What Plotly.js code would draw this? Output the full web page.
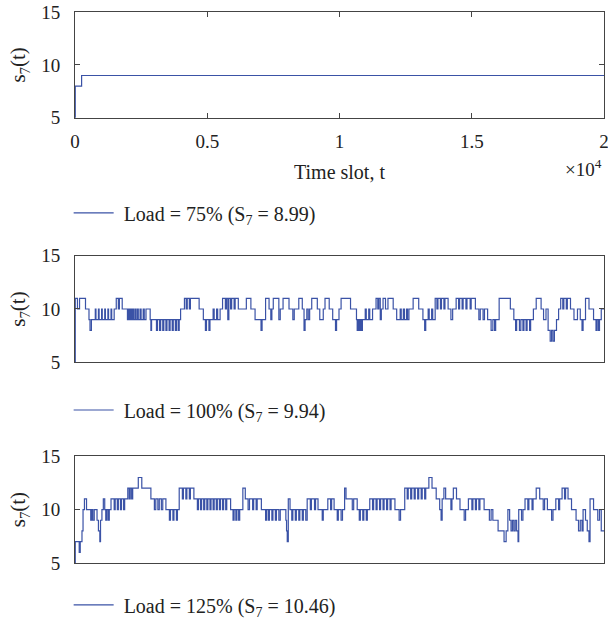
<!DOCTYPE html>
<html>
<head>
<meta charset="utf-8">
<script src="https://cdn.plot.ly/plotly-3.0.1.min.js"></script>
<style>html,body{margin:0;padding:0;background:#fff;}#chart{width:608px;height:627px;}</style>
</head>
<body>
<div id="chart"></div>
<script>
// Time slots at which s_7(t) changes, and the value held from that slot on
const t75 = [0, 10, 250, 20000];
const s75 = [5, 8, 9, 9];

const t100 = [0, 10, 93, 172, 397, 529, 568, 621, 767, 793, 886, 912, 1005, 1031, 1124, 1150, 1243, 1269, 1362, 1388, 1481,
  1560, 1639, 1679, 1785, 1983, 2023, 2049, 2089, 2128, 2168, 2208, 2261, 2300, 2353, 2393, 2459, 2499, 2578, 2618, 2684,
  2842, 2869, 2895, 3080, 3120, 3199, 3239, 3318, 3358, 3437, 3477, 3556, 3596, 3675, 3715, 3794, 3834, 3900, 3940, 3992,
  4138, 4204, 4244, 4323, 4363, 4693, 4852, 4931, 4971, 5063, 5103, 5222, 5262, 5354, 5394, 5486, 5579, 5685, 5724, 5777,
  5817, 5883, 5923, 6015, 6055, 6174, 6478, 6650, 6808, 7033, 7073, 7205, 7337, 7403, 7443, 7496, 7707, 7760, 7866, 8091,
  8236, 8289, 8461, 8593, 8659, 8699, 8765, 8818, 8871, 8950, 9161, 9254, 9386, 9452, 9611, 9743, 9849, 9889, 9981, 10060,
  10417, 10642, 10669, 10708, 10748, 10788, 10827, 10867, 10973, 11012, 11105, 11144, 11250, 11382, 11448, 11488, 11541,
  11581, 11647, 11739, 11832, 12030, 12162, 12295, 12334, 12414, 12453, 12533, 12572, 12625, 12784, 12995, 13154, 13220,
  13260, 13352, 13392, 13484, 13524, 13617, 13683, 13722, 13815, 13855, 13947, 13987, 14106, 14212, 14278, 14410, 14502,
  14542, 14635, 14674, 14780, 14820, 14939, 14978, 15137, 15269, 15322, 15428, 15481, 15600, 15732, 15798, 15864, 15904,
  16036, 16459, 16591, 16657, 16697, 16803, 16856, 16935, 16974, 17054, 17093, 17186, 17226, 17331, 17437, 17622, 17715,
  17807, 17887, 17966, 18019, 18072, 18125, 18204, 18283, 18363, 18442, 18482, 18574, 18614, 18733, 18865, 18997, 19103,
  19169, 19209, 19301, 19433, 19605, 19698, 19737, 19790, 19830, 19896, 20000];
const s100 = [5, 11, 10, 11, 10, 9, 8, 9, 10, 9, 10, 9, 10, 9, 10, 9, 10, 9, 10, 9, 10,
  11, 10, 11, 10, 9, 10, 9, 10, 9, 10, 9, 10, 9, 10, 9, 10, 9, 10, 9, 10,
  9, 8, 9, 8, 9, 8, 9, 8, 9, 8, 9, 8, 9, 8, 9, 8, 9, 8, 9, 10,
  11, 10, 11, 10, 11, 10, 9, 8, 9, 8, 9, 10, 9, 10, 9, 10, 11, 10, 11, 9,
  11, 10, 11, 10, 11, 10, 11, 10, 9, 8, 9, 11, 10, 9, 10, 11, 9, 10, 11, 10,
  9, 10, 11, 10, 8, 9, 10, 9, 10, 11, 10, 9, 10, 11, 10, 9, 8, 9, 10, 11,
  10, 9, 8, 9, 8, 9, 8, 9, 10, 9, 10, 9, 10, 11, 10, 11, 9,
  10, 11, 10, 11, 10, 9, 10, 9, 10, 9, 10, 9, 10, 11, 10, 9, 8,
  9, 10, 9, 10, 9, 11, 10, 11, 10, 11, 10, 11, 10, 9, 10, 11, 10,
  11, 10, 11, 10, 11, 10, 11, 10, 9, 10, 9, 10, 9, 8, 9, 8, 9,
  11, 10, 9, 8, 9, 8, 9, 8, 9, 8, 9, 8, 9, 10, 11, 10, 9,
  10, 8, 7, 8, 7, 8, 9, 10, 11, 10, 11, 10, 11, 10, 9, 10, 9,
  8, 9, 11, 10, 9, 8, 9, 8, 9, 10, 10];

const t125 = [0, 10, 159, 198, 264, 304, 357, 436, 595, 635, 674, 727, 833, 886, 939, 965, 1018, 1071, 1124, 1163, 1203,
  1256, 1296, 1362, 1481, 1520, 1600, 1639, 1719, 1758, 1838, 1877, 1996, 2049, 2089, 2142, 2181, 2393, 2525, 2869, 3001,
  3054, 3133, 3186, 3265, 3318, 3437, 3569, 3609, 3702, 3741, 3834, 3873, 3940, 4059, 4098, 4191, 4230, 4323, 4363, 4495,
  4627, 4667, 4746, 4786, 4865, 4905, 4984, 5024, 5103, 5143, 5222, 5262, 5341, 5381, 5460, 5500, 5579, 5619, 5698, 5737,
  5883, 5975, 6015, 6081, 6121, 6187, 6227, 6346, 6438, 6544, 6597, 6716, 6755, 6848, 6888, 7046, 7205, 7245, 7311, 7350,
  7443, 7483, 7575, 7615, 7707, 7760, 7972, 7998, 8025, 8064, 8130, 8196, 8236, 8329, 8368, 8461, 8500, 8593, 8633, 8725,
  8778, 8897, 8937, 9056, 9095, 9188, 9347, 9386, 9558, 9664, 9703, 9796, 9915, 9955, 10060, 10113, 10193, 10246, 10483,
  10536, 10669, 10748, 10788, 10880, 10920, 11012, 11052, 11144, 11250, 11290, 11382, 11422, 11515, 11554, 11647, 11686,
  11779, 11819, 11911, 11951, 12096, 12255, 12308, 12466, 12559, 12598, 12691, 12731, 12823, 12863, 12956, 12995, 13088,
  13127, 13220, 13260, 13379, 13498, 13656, 13788, 13841, 13881, 13947, 14013, 14212, 14251, 14304, 14423, 14555, 14714,
  14767, 14873, 15005, 15044, 15137, 15177, 15269, 15309, 15467, 15666, 15732, 15798, 15996, 16221, 16300, 16366, 16432,
  16485, 16538, 16591, 16644, 16697, 16750, 16776, 16882, 16935, 17014, 17120, 17160, 17279, 17318, 17437, 17569, 17702,
  17754, 17860, 18019, 18072, 18178, 18283, 18323, 18415, 18508, 18548, 18640, 18772, 18944, 19037, 19103, 19169, 19209,
  19301, 19367, 19433, 19473, 19605, 19764, 19830, 19896, 20000];
const s125 = [5, 7, 6, 7, 8, 10, 11, 10, 9, 10, 9, 10, 9, 8, 7, 9, 10, 11, 10, 9, 10,
  9, 10, 11, 10, 11, 10, 11, 10, 11, 10, 11, 12, 11, 12, 11, 12, 13, 12, 11, 10,
  11, 10, 11, 10, 11, 10, 9, 10, 9, 10, 9, 10, 12, 11, 12, 11, 12, 11, 12, 11,
  10, 11, 10, 11, 10, 11, 10, 11, 10, 11, 10, 11, 10, 11, 10, 11, 10, 11, 10, 11,
  10, 9, 10, 9, 10, 9, 10, 12, 11, 10, 11, 10, 11, 10, 11, 10, 9, 10, 9, 10,
  9, 10, 9, 10, 9, 10, 9, 8, 7, 11, 10, 9, 10, 9, 10, 9, 10, 9, 10, 9,
  11, 10, 11, 10, 11, 10, 9, 10, 11, 10, 11, 10, 9, 10, 9, 10, 12, 11, 10,
  11, 10, 9, 10, 9, 10, 9, 10, 11, 10, 11, 10, 11, 10, 11, 10, 11,
  10, 11, 10, 11, 10, 9, 10, 12, 11, 12, 11, 12, 11, 12, 11, 12, 11,
  12, 11, 12, 13, 12, 11, 10, 9, 11, 12, 11, 10, 11, 12, 11, 10, 9,
  10, 11, 10, 11, 10, 11, 10, 11, 10, 9, 10, 9, 8, 7, 8, 10, 9,
  8, 9, 8, 9, 8, 7, 10, 9, 10, 11, 10, 11, 10, 11, 12, 11, 10,
  11, 10, 9, 10, 11, 10, 11, 12, 11, 12, 11, 10, 9, 8, 9, 8, 10,
  9, 8, 7, 11, 10, 9, 10, 8, 8];

const legendTexts = [
  '\u00a0Load = 75% (S<sub>7</sub> = 8.99)',
  '\u00a0Load = 100% (S<sub>7</sub> = 9.94)',
  '\u00a0Load = 125% (S<sub>7</sub> = 10.46)'
];
const xTickVals = [0, 5000, 10000, 15000, 20000];
const xTickText = ['0', '0.5', '1', '1.5', '2'];
const yTickVals = [5, 10, 15];

const lineColor = '#3a52a6';
const serif = 'Liberation Serif, Times New Roman, serif';
const axisColor = '#444';
const txt = '#222';

const traces = [
  {x: t75, y: s75, xaxis: 'x', yaxis: 'y', legend: 'legend', name: legendTexts[0]},
  {x: t100, y: s100, xaxis: 'x2', yaxis: 'y2', legend: 'legend2', name: legendTexts[1]},
  {x: t125, y: s125, xaxis: 'x3', yaxis: 'y3', legend: 'legend3', name: legendTexts[2]}
].map(tr => Object.assign(tr, {
  type: 'scatter', mode: 'lines', showlegend: true,
  line: {color: lineColor, width: 1.2, shape: 'hv'}
}));

function xAxis(anchor, showLabels) {
  return {
    anchor: anchor, domain: [0, 1], range: [0, 20000],
    showline: true, linecolor: axisColor, linewidth: 1, mirror: showLabels ? 'ticks' : true,
    ticks: showLabels ? 'inside' : '', ticklen: 5, tickcolor: axisColor,
    tickvals: xTickVals, ticktext: xTickText, showticklabels: showLabels,
    showgrid: false, zeroline: false,
    tickfont: {family: serif, size: 19, color: txt},
    ticklabelstandoff: 6, ticklabeloverflow: 'allow'
  };
}
function yAxis(anchor, domain) {
  return {
    anchor: anchor, domain: domain, range: [5, 15],
    showline: true, linecolor: axisColor, linewidth: 1, mirror: 'ticks',
    ticks: 'inside', ticklen: 5, tickcolor: axisColor,
    tickvals: yTickVals, showgrid: false, zeroline: false,
    tickfont: {family: serif, size: 19, color: txt},
    ticklabelstandoff: 10,
    title: {text: 's<sub>7</sub>(t)', font: {family: serif, size: 21, color: txt}, standoff: 9}
  };
}
function legendAt(y) {
  return {
    x: -0.012, xanchor: 'left', y: y, yanchor: 'middle', yref: 'paper',
    bgcolor: 'rgba(0,0,0,0)', borderwidth: 0,
    font: {family: serif, size: 20, color: txt},
    itemwidth: 40
  };
}

const xa1 = xAxis('y', true);
xa1.title = {text: 'Time slot, t', font: {family: serif, size: 20, color: txt}, standoff: 14};

const layout = {
  width: 608, height: 627,
  margin: {l: 75, r: 4, t: 12, b: 63},
  paper_bgcolor: '#fff', plot_bgcolor: '#fff',
  xaxis: xa1,
  xaxis2: xAxis('y2', false),
  xaxis3: xAxis('y3', false),
  yaxis: yAxis('x', [0.808, 1.0]),
  yaxis2: yAxis('x2', [0.364, 0.558]),
  yaxis3: yAxis('x3', [0.0, 0.194]),
  legend: legendAt(0.636),
  legend2: legendAt(0.279),
  legend3: legendAt(-0.074),
  annotations: [{
    text: '×10<sup>4</sup>', xref: 'paper', yref: 'paper', x: 1.0, y: 0.716,
    xanchor: 'right', yanchor: 'middle', showarrow: false,
    font: {family: serif, size: 19, color: txt}
  }]
};

Plotly.newPlot('chart', traces, layout, {displayModeBar: false, staticPlot: true});
</script>
</body>
</html>
